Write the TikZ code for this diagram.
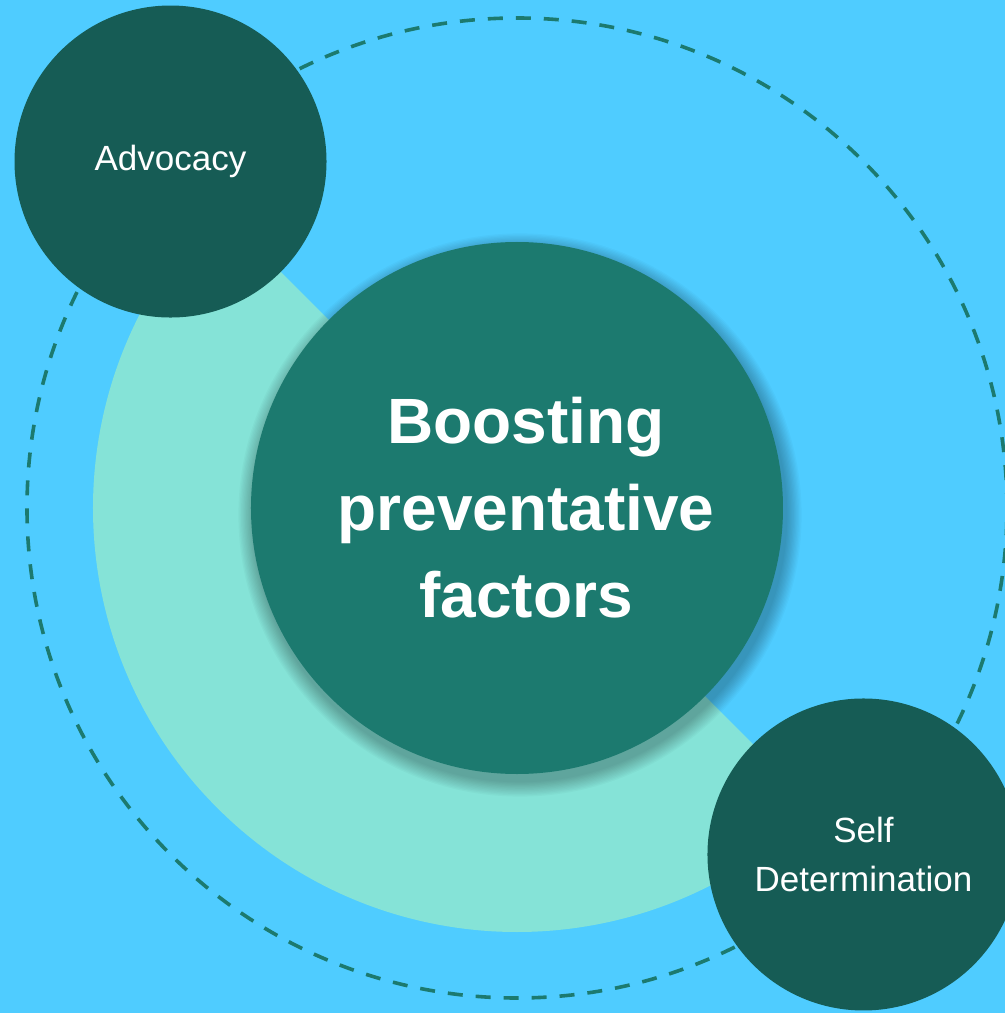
\documentclass[tikz,border=0pt]{standalone}
\usepackage{fontspec}
\setmainfont{Liberation Sans}
\definecolor{skyblue}{HTML}{4FCCFF}
\definecolor{paleteal}{HTML}{85E3D7}
\definecolor{midteal}{HTML}{1C7A6F}
\definecolor{deepteal}{HTML}{165C55}

\begin{document}
\begin{tikzpicture}[x=0.5pt,y=0.5pt,
    bubble/.style={circle,fill=deepteal,text=white,align=center,inner sep=0pt,
      minimum size=156pt,font=\fontsize{17.5}{24.5}\selectfont},
    hubdisc/.style={circle,fill=midteal,inner sep=0pt,minimum size=266pt},
    hubtext/.style={text=white,align=center,inner sep=0pt,
      font=\fontsize{32}{43.5}\selectfont\bfseries},
    orbit/.style={midteal,line width=1.8pt,dash pattern=on 7.5pt off 6.5pt}]
\fill[skyblue] (-517,-505) rectangle (488,508);
\useasboundingbox (-517,-505) rectangle (488,508);
\coordinate (mid) at (0,0);

% half ring behind the hub
\fill[paleteal] (mid) -- (135:424) arc[start angle=135,end angle=315,radius=424] -- cycle;
\draw[orbit] (mid) circle (490);

% soft shadow under the hub
\foreach \k in {1,...,12}
  \fill[black,opacity=0.025] ([shift={(3,-7)}]mid) circle ({266+\k*1.3});

\node[hubdisc] (hub) at (mid) {};
\node[hubtext] (hubtxt) at ([xshift=4.5pt]hub.center) {Boosting\\preventative\\factors};
\node[bubble] (adv) at (135:490) {Advocacy};
\node[bubble] (selfdet) at (-45:490) {Self\\Determination};
\end{tikzpicture}
\end{document}
